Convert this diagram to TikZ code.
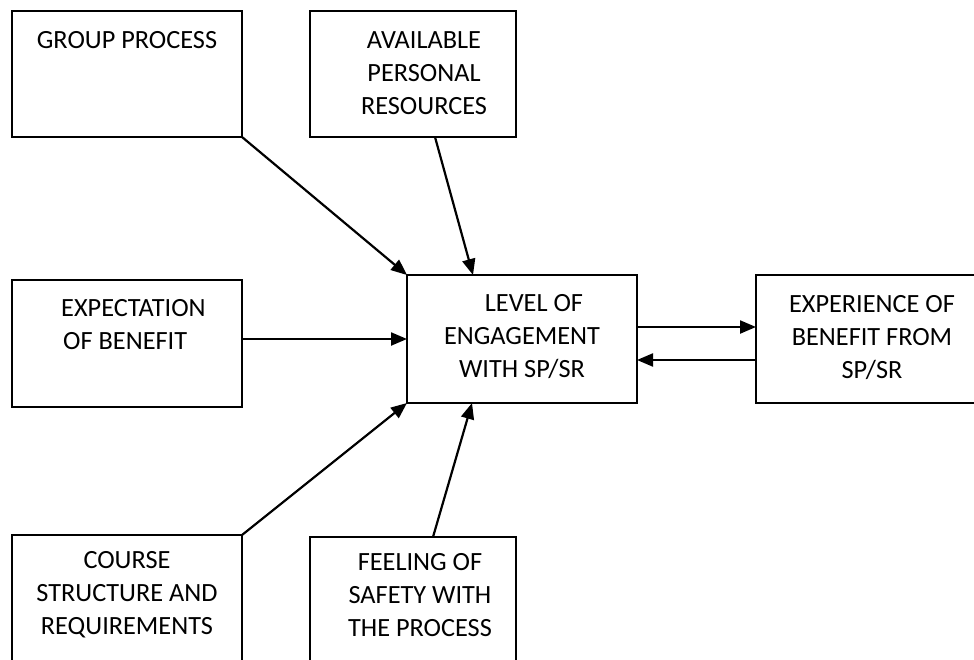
\documentclass[tikz,border=0pt]{standalone}
\usepackage{fontspec}
\setmainfont{Carlito}
\usetikzlibrary{arrows.meta}
\tikzset{
  box/.style={draw=black, line width=1.8pt, rectangle, anchor=north west, inner sep=0pt, outer sep=0pt},
  lbl/.style={inner sep=0pt, align=center, font=\fontsize{26.3}{33}\selectfont},
  conn/.style={line width=2.2pt, -{Triangle[length=16pt,width=13pt]}}
}
\begin{document}
\begin{tikzpicture}[x=1pt,y=-1pt]
\useasboundingbox (0,0) rectangle (974,659);
% boxes
\node[box, minimum width=230pt, minimum height=126pt] (grp) at (12,11) {};
\node[box, minimum width=206pt, minimum height=126pt] (avl) at (310,11) {};
\node[box, minimum width=230pt, minimum height=127pt] (exp) at (12,280) {};
\node[box, minimum width=230pt, minimum height=128pt] (lvl) at (407,275) {};
\node[box, minimum width=250pt, minimum height=128pt] (exr) at (756,275) {};
\node[box, minimum width=230pt, minimum height=150pt] (crs) at (12,535) {};
\node[box, minimum width=206pt, minimum height=150pt] (fel) at (310,537) {};
% texts
\node[lbl] (tgrp) at (127,40) {GROUP PROCESS};
\node[lbl] (tavl) at (424,73) {AVAILABLE\\PERSONAL\\RESOURCES};
\node[lbl, align=left, anchor=west] (texp) at (61,325) {EXPECTATION\\\hspace*{2pt}OF BENEFIT};
\node[lbl] (tlvl) at (522,337) {\hspace*{24pt}LEVEL OF\\ENGAGEMENT\\WITH SP/SR};
\node[lbl] (texr) at (872,338) {EXPERIENCE OF\\BENEFIT FROM\\SP/SR};
\node[lbl] (tcrs) at (127,595) {COURSE\\STRUCTURE AND\\REQUIREMENTS};
\node[lbl] (tfel) at (420,595) {FEELING OF\\SAFETY WITH\\THE PROCESS};
% connectors
\draw[conn] (grp.south east) -- (lvl.north west);
\draw[conn] ([xshift=125pt]avl.south west) -- ([xshift=66pt]lvl.north west);
\draw[conn] (exp.east |- lvl.west) -- (lvl.west);
\draw[conn] (crs.north east) -- (lvl.south west);
\draw[conn] ([xshift=123pt]fel.north west) -- ([xshift=65pt]lvl.south west);
\draw[conn] ([yshift=12pt]lvl.east) -- ([yshift=12pt]exr.west);
\draw[conn] ([yshift=-21pt]exr.west) -- ([yshift=-21pt]lvl.east);
\end{tikzpicture}
\end{document}
